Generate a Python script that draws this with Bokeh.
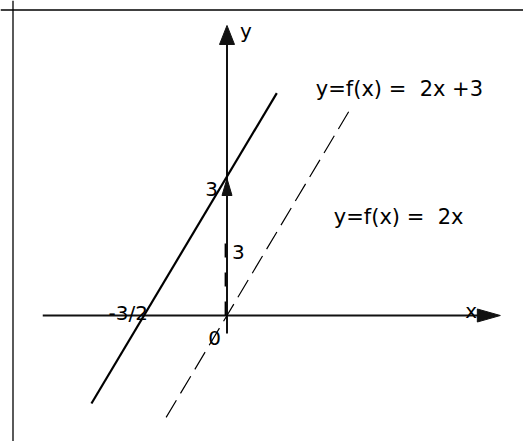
from bokeh.plotting import figure
from bokeh.models import Range1d, Span
from bokeh.core.properties import value
from bokeh.embed import file_html
from bokeh.resources import INLINE

# f(x) = 2x (dashed) and its vertical shift f(x) = 2x + 3 (solid)
base_x = [-1.1, 2.2]
base_y = [-2.2, 4.4]
shift_x = [-2.45, 0.9]
shift_y = [-1.9, 4.8]

intercept = 3        # the shift along the y-axis
root = -1.5          # where 2x + 3 meets the x-axis
root_label = "-3/2"
intercept_label = "3"
shift_label = "3"
origin_label = "0"
NBSP = "\u00a0"
label_shifted = "y=f(x) =" + NBSP + NBSP + "2x +3"
label_base = "y=f(x) =" + NBSP + NBSP + "2x"

# visible extent of the two coordinate axes (in function units)
x_axis_span = [-3.33, 4.94]
y_axis_span = [-0.39, 6.26]

# canvas and scale: pixels per unit on each axis, pixel position of the origin
W, H = 523, 441
SX, SY = 55.33, 46.33
OX, OY = 226.5, 315.0


def dx(px):
    """pixel length -> x units"""
    return px / SX


def dy(px):
    """pixel length -> y units"""
    return px / SY


p = figure(
    width=W, height=H,
    x_range=Range1d(-OX / SX, (W - OX) / SX),
    y_range=Range1d(-(H - OY) / SY, OY / SY),
    x_axis_type=None, y_axis_type=None,
    output_backend="svg", toolbar_location=None,
    min_border=0, outline_line_color=None,
    background_fill_color="white", border_fill_color="white",
)

INK = "#000000"
FONT = value("DejaVu Sans")

# frame around the drawing: only its top and left edges fall inside the page
fx = p.x_range.start + dx(12.5)
fy = p.y_range.end - dy(9.5)
p.add_layout(Span(location=fx, dimension="height", line_color=INK, line_width=1.3))
p.add_layout(Span(location=fy, dimension="width", line_color=INK, line_width=1.3))

# coordinate axes
p.segment(x0=[x_axis_span[0], 0], y0=[0, y_axis_span[0]],
          x1=[x_axis_span[1] - dx(10), 0], y1=[0, y_axis_span[1] - dy(10)],
          line_color="#111111", line_width=2)

# arrow heads: x-axis, y-axis, and the small head of the shift arrow
xt, yt = x_axis_span[1], y_axis_span[1]
tip_shift = intercept - dy(2)
heads_x = [
    [xt, xt - dx(23), xt - dx(23)],
    [0, -dx(7.5), dx(7.5)],
    [0, -dx(5), dx(5)],
]
heads_y = [
    [0, dy(6.5), -dy(6.5)],
    [yt, yt - dy(19), yt - dy(19)],
    [tip_shift, tip_shift - dy(17), tip_shift - dy(17)],
]
p.patches(heads_x, heads_y, fill_color="#111111", line_color="#111111", line_width=1)

# dashed shaft of the shift arrow, just beside the y-axis
p.line(x=[-dx(1.6), -dx(1.6)], y=[0, 1.75], line_color=INK, line_width=1.6,
       line_dash="14 15")

# the two lines
p.line(x=base_x, y=base_y, line_color=INK, line_width=1.2, line_dash="20 8")
p.line(x=shift_x, y=shift_y, line_color=INK, line_width=2.2)

# point labels on the axes
p.text(x=[root], y=[0], text=[root_label], text_font=FONT, text_font_size="20px",
       text_align="right", text_baseline="alphabetic", x_offset=4, y_offset=-3,
       text_color=INK)
p.text(x=[0], y=[0], text=[origin_label], text_font=FONT, text_font_size="20px",
       text_align="right", text_baseline="alphabetic", x_offset=-6, y_offset=22,
       text_color=INK)
p.text(x=[0], y=[intercept], text=[intercept_label], text_font=FONT,
       text_font_size="20px", text_align="right", text_baseline="alphabetic",
       x_offset=-9, y_offset=12, text_color=INK)
p.text(x=[0], y=[intercept / 2], text=[shift_label], text_font=FONT,
       text_font_size="20px", text_align="left", text_baseline="alphabetic",
       x_offset=5, y_offset=6, text_color=INK)

# axis names
p.text(x=[0], y=[yt], text=["y"], text_font=FONT, text_font_size="20px",
       text_align="left", text_baseline="alphabetic", x_offset=13, y_offset=6,
       text_color=INK)
p.text(x=[xt], y=[0], text=["x"], text_font=FONT, text_font_size="20px",
       text_align="left", text_baseline="alphabetic", x_offset=-35, y_offset=-5,
       text_color=INK)

# equations
p.text(x=[shift_x[1]], y=[shift_y[1]], text=[label_shifted], text_font=FONT,
       text_font_size="21px", text_align="left", text_baseline="alphabetic",
       x_offset=39, y_offset=-4, text_color=INK)
p.text(x=[1.93], y=[2.12], text=[label_base], text_font=FONT,
       text_font_size="21px", text_align="left", text_baseline="alphabetic",
       text_color=INK)

open("out.html", "w").write(file_html(p, INLINE))
